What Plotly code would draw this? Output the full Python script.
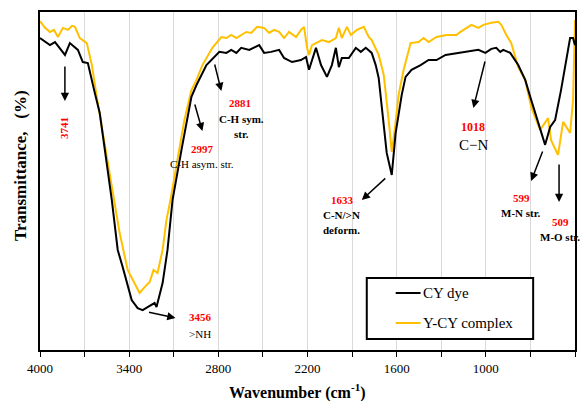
import plotly.graph_objects as go

# ---- data ----
cy_wn = [4000, 3933, 3899, 3832, 3799, 3745, 3712, 3678, 3631, 3598, 3517, 3477, 3444, 3383, 3343,
         3309, 3276, 3229, 3216, 3175, 3142, 3108, 3048, 2981, 2947, 2880, 2793, 2746, 2713, 2679,
         2646, 2592, 2525, 2492, 2445, 2391, 2358, 2304, 2244, 2210, 2190, 2143, 2109, 2069, 2036,
         2009, 1989, 1969, 1922, 1875, 1841, 1808, 1768, 1741, 1721, 1701, 1667, 1633, 1607, 1566,
         1540, 1500, 1439, 1385, 1332, 1271, 1184, 1117, 1050, 1003, 963, 930, 903, 883, 836,
         782, 735, 695, 628, 601, 567, 534, 494, 467, 433, 413, 400]
cy_t = [92.3, 90.2, 91.1, 87.3, 90.8, 88.8, 85.2, 84.9, 76.0, 70.1, 44.4, 29.6, 24.6, 14.8, 12.4,
        11.8, 12.7, 13.9, 12.7, 19.8, 29.6, 44.4, 59.2, 74.9, 78.4, 84.3, 88.2, 87.9, 88.8, 87.9,
        89.4, 88.8, 90.2, 87.9, 88.2, 88.8, 86.4, 85.2, 85.8, 86.7, 82.9, 89.4, 84.3, 80.8, 84.3,
        89.4, 83.7, 86.4, 86.4, 89.4, 88.2, 89.4, 87.9, 84.3, 80.5, 71.9, 58.3, 51.8, 64.2, 75.5,
        80.8, 82.9, 84.3, 85.8, 85.8, 87.3, 87.9, 88.2, 88.8, 87.9, 89.1, 89.4, 88.2, 88.8, 87.9,
        84.3, 79.9, 74.0, 64.2, 60.7, 66.0, 68.0, 76.9, 83.7, 92.3, 92.3, 90.2]

ycy_wn = [4000, 3966, 3933, 3906, 3879, 3846, 3812, 3785, 3765, 3732, 3685, 3651, 3618, 3558, 3497,
          3464, 3410, 3363, 3330, 3296, 3262, 3236, 3209, 3175, 3149, 3122, 3082, 3028, 2981, 2947,
          2907, 2840, 2780, 2746, 2713, 2679, 2612, 2579, 2539, 2492, 2458, 2425, 2391, 2358, 2324,
          2277, 2244, 2223, 2203, 2190, 2170, 2103, 2056, 2009, 1989, 1969, 1935, 1908, 1868, 1821,
          1788, 1768, 1721, 1687, 1654, 1633, 1613, 1587, 1553, 1506, 1453, 1419, 1385, 1332, 1265,
          1198, 1171, 1097, 1050, 1017, 963, 916, 896, 862, 829, 782, 735, 695, 635, 581,
          561, 514, 480, 433, 413, 400]
ycy_t = [97.3, 95.3, 94.1, 94.7, 92.6, 95.3, 94.7, 95.9, 95.6, 92.3, 90.8, 84.3, 74.9, 59.2, 44.4,
         34.6, 23.7, 19.8, 16.9, 18.6, 20.1, 23.7, 22.8, 29.6, 38.5, 44.4, 54.1, 68.1, 76.9, 79.9,
         84.3, 89.4, 92.6, 92.3, 93.2, 92.3, 94.1, 93.8, 95.6, 95.3, 93.8, 94.7, 94.1, 92.3, 94.1,
         92.6, 94.7, 95.6, 89.4, 87.3, 90.2, 91.7, 91.1, 92.3, 95.3, 92.3, 95.6, 93.2, 94.7, 95.6,
         92.6, 91.7, 87.3, 81.4, 68.1, 58.6, 65.1, 75.5, 82.9, 90.8, 91.1, 92.3, 91.1, 92.6, 93.2,
         93.2, 94.1, 96.2, 95.3, 96.2, 96.8, 97.1, 96.2, 93.2, 90.8, 83.7, 79.9, 71.9, 65.1, 68.6,
         62.1, 57.7, 67.5, 64.2, 74.0, 97.6]

x_ticks = [4000, 3700, 3400, 3100, 2800, 2500, 2200, 1900, 1600, 1300, 1000, 700, 400]
x_tick_text = ["4000", " ", "3400", " ", "2800", " ", "2200", " ", "1600", " ", "1000", " ", "400"]

series_names = ["CY dye", "Y-CY complex"]
series_colors = ["#000000", "#FFC000"]

# ---- layout helpers (pixel -> paper) ----
L, R, T, B = 40, 577, 12, 350
W, H = R - L, B - T


def P(x, y):
    return (x - L) / W, (B - y) / H


FONT = "Liberation Serif"

fig = go.Figure()
fig.add_trace(go.Scatter(x=ycy_wn, y=ycy_t, mode="lines", name=series_names[1],
                         line=dict(color=series_colors[1], width=2), showlegend=False))
fig.add_trace(go.Scatter(x=cy_wn, y=cy_t, mode="lines", name=series_names[0],
                         line=dict(color=series_colors[0], width=2), showlegend=False))

annotations = []


def text(x, y, s, color="black", size=11, bold=False, angle=0):
    px, py = P(x, y)
    annotations.append(dict(x=px, y=py, xref="paper", yref="paper", text=f"<b>{s}</b>" if bold else s,
                            showarrow=False, textangle=angle, xanchor="center", yanchor="middle",
                            font=dict(family=FONT, size=size, color=color)))


def arrow(x0, y0, x1, y1):
    px, py = P(x1, y1)
    annotations.append(dict(x=px, y=py, xref="paper", yref="paper", ax=x0 - x1, ay=y0 - y1,
                            axref="pixel", ayref="pixel", text="", showarrow=True,
                            arrowhead=2, arrowsize=1.1, arrowwidth=1.5, arrowcolor="black"))


RED = "#FF0000"
# 3741
arrow(65, 65, 65, 101)
text(64, 128, "3741", RED, 11, True, -90)
# 2881
arrow(215, 63, 222, 91)
text(241, 103, "2881", RED, 11, True)
text(242, 119, "C-H sym.", "black", 11, True)
text(242, 134, "str.", "black", 11, True)
# 2997
arrow(195, 103, 203, 131)
text(203, 149, "2997", RED, 11, True)
text(203, 164, "C-H asym. str.", "black", 11)
# 3456
arrow(148, 312, 176, 318)
text(201, 317, "3456", RED, 11, True)
text(201, 334, ">NH", "black", 11)
# 1633
arrow(388, 177, 363, 200)
text(344, 200, "1633", RED, 11, True)
text(343, 215, "C-N/>N", "black", 11, True)
text(343, 230, "deform.", "black", 11, True)
# 1018
arrow(487, 60, 475, 108)
text(475, 127, "1018", RED, 12, True)
text(475, 145, "C\u2212N", "black", 15)
# 599
arrow(545, 150, 533, 181)
text(523, 198, "599", RED, 11, True)
text(523, 213, "M-N str.", "black", 11, True)
# 509
arrow(561, 163, 561, 202)
text(562, 222, "509", RED, 11, True)
text(562, 237, "M-O str.", "black", 11, True)

# axis titles
text(298, 391, "Wavenumber (cm<sup>-1</sup>)", "black", 16, True)
text(20, 166, "Transmittance,&nbsp;&nbsp;&nbsp;(%)", "black", 17, True, -90)

# legend (drawn box)
shapes = []
lx0, ly0 = P(368, 278)
lx1, ly1 = P(535, 339)
shapes.append(dict(type="rect", xref="paper", yref="paper", x0=lx0, y0=ly1, x1=lx1, y1=ly0,
                   line=dict(color="black", width=2), fillcolor="white", layer="above"))
for i, yy in enumerate([293, 323]):
    a, b = P(397, yy)
    c, _ = P(422, yy)
    shapes.append(dict(type="line", xref="paper", yref="paper", x0=a, y0=b, x1=c, y1=b,
                       line=dict(color=series_colors[i], width=2), layer="above"))
    px, py = P(422, yy)
    annotations.append(dict(x=px, y=py, xref="paper", yref="paper", text=series_names[i],
                            showarrow=False, xanchor="left", yanchor="middle",
                            font=dict(family=FONT, size=15, color="black")))

fig.update_layout(
    width=584, height=401,
    margin=dict(l=L, r=584 - R, t=T, b=401 - B),
    paper_bgcolor="white", plot_bgcolor="white",
    showlegend=False,
    annotations=annotations, shapes=shapes,
    xaxis=dict(range=[4000, 400], tickvals=x_ticks, ticktext=x_tick_text,
               showgrid=True, gridcolor="#d9d9d9", gridwidth=1,
               ticks="outside", ticklen=5, tickcolor="black", tickwidth=1,
               showline=True, linecolor="black", linewidth=2, mirror=True,
               zeroline=False, tickfont=dict(family=FONT, size=13, color="black")),
    yaxis=dict(range=[0, 100], showticklabels=False, ticks="", showgrid=False,
               showline=True, linecolor="black", linewidth=2, mirror=True, zeroline=False),
)

fig.write_html("out.html")
